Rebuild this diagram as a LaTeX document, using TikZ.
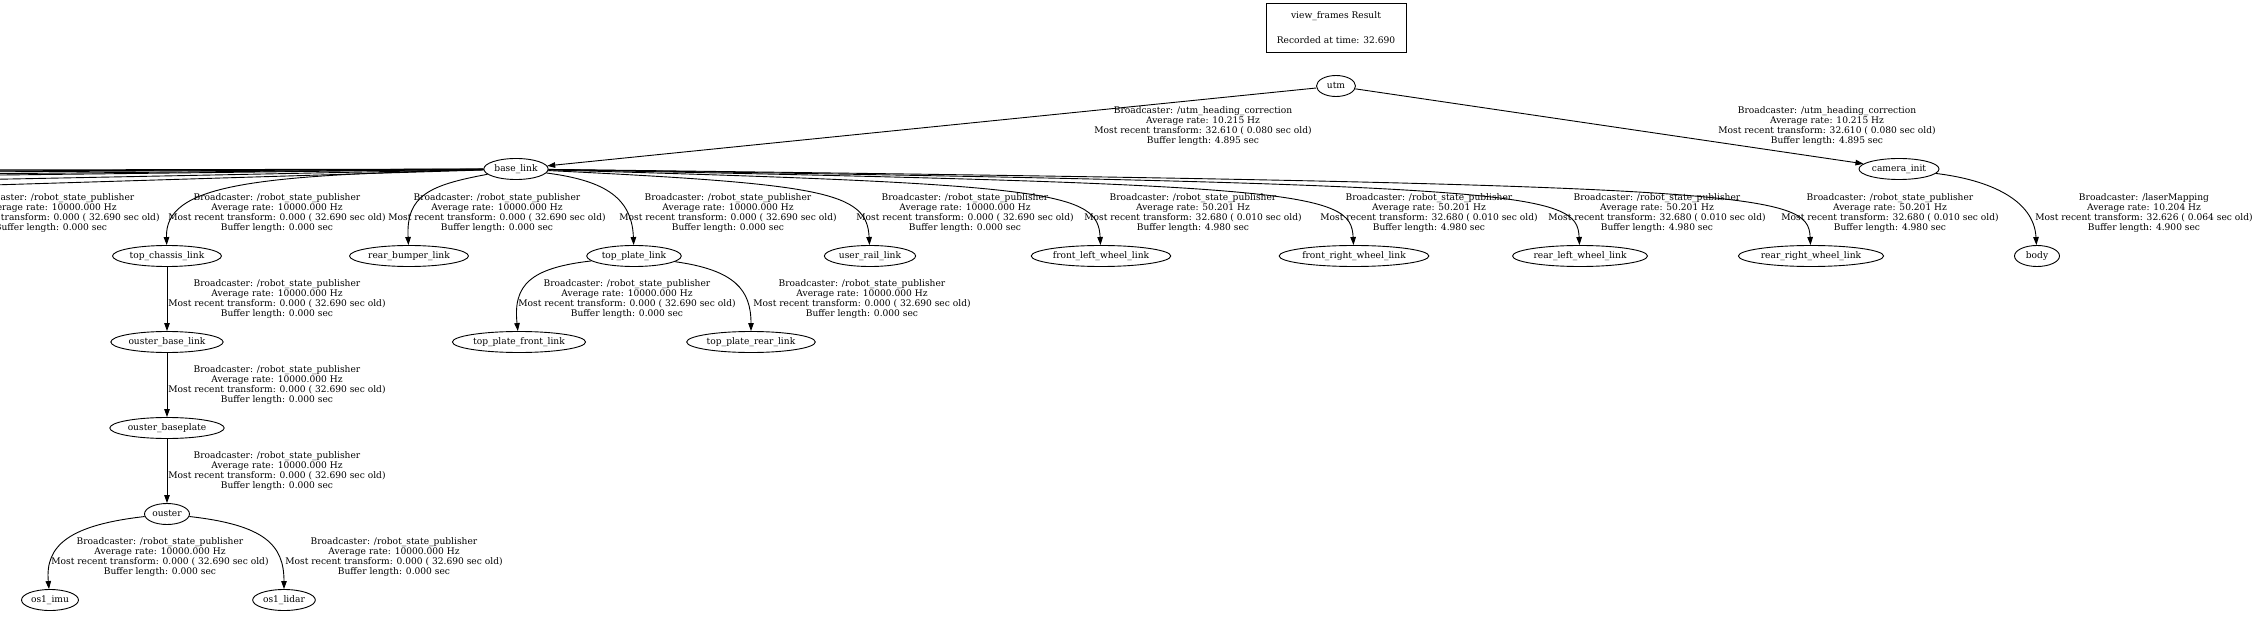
\documentclass[tikz,border=0pt]{standalone}
\usepackage{fontspec}
\setmainfont{DejaVu Serif}
\usetikzlibrary{arrows.meta,shapes.geometric}

\begin{document}
\begin{tikzpicture}[x=1pt,y=-1pt,line width=.9pt,
  frame/.style={draw,shape=ellipse,inner xsep=1.2pt,inner ysep=1pt,minimum width=39pt,minimum height=21pt,text height=6.3pt,text depth=1.6pt,font=\fontsize{9.1}{9.9}\selectfont},
  info/.style={align=center,inner sep=0pt,font=\fontsize{9.1}{9.9}\selectfont},
  tf/.style={-{Triangle[length=8pt,width=5.5pt]}}]

   \useasboundingbox (0,0) rectangle (2259,620);

      \path (1336,28) node[draw,shape=rectangle,minimum width=140pt,minimum height=49pt,info] (0) {view\_frames Result\\[15.1pt]Recorded at time: 32.690};

      \path (1336,86) node[frame] (1) {utm};
      \path (516,169) node[frame] (2) {base\_link};
      \path (1899,169) node[frame] (3) {camera\_init};
      \path (167,256) node[frame] (4) {top\_chassis\_link};
      \path (409,256) node[frame] (5) {rear\_bumper\_link};
      \path (634,256) node[frame] (6) {top\_plate\_link};
      \path (870,256) node[frame] (7) {user\_rail\_link};
      \path (1101,256) node[frame] (8) {front\_left\_wheel\_link};
      \path (1354,256) node[frame] (9) {front\_right\_wheel\_link};
      \path (1580,256) node[frame] (10) {rear\_left\_wheel\_link};
      \path (1811,256) node[frame] (11) {rear\_right\_wheel\_link};
      \path (2037,256) node[frame,minimum width=45pt] (12) {body};
      \path (167,342) node[frame] (13) {ouster\_base\_link};
      \path (519,342) node[frame] (14) {top\_plate\_front\_link};
      \path (751,342) node[frame] (15) {top\_plate\_rear\_link};
      \path (167,428) node[frame] (16) {ouster\_baseplate};
      \path (167,514) node[frame] (17) {ouster};
      \path (50,600) node[frame] (18) {os1\_imu};
      \path (284,600) node[frame] (19) {os1\_lidar};

      % frames further left, outside the picture
      \path (-40,170) coordinate (a1);
      \path (-40,171) coordinate (a2);
      \path (-40,172) coordinate (a3);
      \path (-40,174) coordinate (a4);
      \path (-40,175.5) coordinate (a5);
      \path (-40,180) coordinate (a6);
      \path (-40,186) coordinate (a7);

      \draw[tf] (1) -- (2);
      \draw[tf] (1) -- (3);
      \draw[tf] (2) -- (a1);
      \draw[tf] (2) -- (a2);
      \draw[tf] (2) -- (a3);
      \draw[tf] (2) -- (a4);
      \draw[tf] (2) -- (a5);
      \draw[tf] (2) -- (a6);
      \draw[tf] (2) -- (a7);
      \draw[tf] (2) .. controls (250,175) and (165,185) .. (4);
      \draw[tf] (2) .. controls (430,185) and (406,195) .. (5);
      \draw[tf] (2) .. controls (600,180) and (632,195) .. (6);
      \draw[tf] (2) .. controls (825,184) and (867,192) .. (7);
      \draw[tf] (2) .. controls (1056,184) and (1098,192) .. (8);
      \draw[tf] (2) .. controls (1308,184) and (1351,192) .. (9);
      \draw[tf] (2) .. controls (1536,184) and (1577,192) .. (10);
      \draw[tf] (2) .. controls (1766,184) and (1808,192) .. (11);
      \draw[tf] (3) .. controls (1990,180) and (2034,200) .. (12);
      \draw[tf] (4) -- (13);
      \draw[tf] (6) .. controls (530,268) and (513,285) .. (14);
      \draw[tf] (6) .. controls (735,270) and (751,290) .. (15);
      \draw[tf] (13) -- (16);
      \draw[tf] (16) -- (17);
      \draw[tf] (17) .. controls (70,525) and (45,545) .. (18);
      \draw[tf] (17) .. controls (265,525) and (284,545) .. (19);

      \path (1203,126) node[info] (e1) {Broadcaster: /utm\_heading\_correction\\Average rate: 10.215 Hz\\Most recent transform: 32.610 ( 0.080 sec old)\\Buffer length: 4.895 sec};
      \path (1827,126) node[info] (e2) {Broadcaster: /utm\_heading\_correction\\Average rate: 10.215 Hz\\Most recent transform: 32.610 ( 0.080 sec old)\\Buffer length: 4.895 sec};
      \path (51,213) node[info] (e3) {Broadcaster: /robot\_state\_publisher\\Average rate: 10000.000 Hz\\Most recent transform: 0.000 ( 32.690 sec old)\\Buffer length: 0.000 sec};
      \path (277,213) node[info] (e4) {Broadcaster: /robot\_state\_publisher\\Average rate: 10000.000 Hz\\Most recent transform: 0.000 ( 32.690 sec old)\\Buffer length: 0.000 sec};
      \path (497,213) node[info] (e5) {Broadcaster: /robot\_state\_publisher\\Average rate: 10000.000 Hz\\Most recent transform: 0.000 ( 32.690 sec old)\\Buffer length: 0.000 sec};
      \path (728,213) node[info] (e6) {Broadcaster: /robot\_state\_publisher\\Average rate: 10000.000 Hz\\Most recent transform: 0.000 ( 32.690 sec old)\\Buffer length: 0.000 sec};
      \path (965,213) node[info] (e7) {Broadcaster: /robot\_state\_publisher\\Average rate: 10000.000 Hz\\Most recent transform: 0.000 ( 32.690 sec old)\\Buffer length: 0.000 sec};
      \path (1193,213) node[info] (e8) {Broadcaster: /robot\_state\_publisher\\Average rate: 50.201 Hz\\Most recent transform: 32.680 ( 0.010 sec old)\\Buffer length: 4.980 sec};
      \path (1429,213) node[info] (e9) {Broadcaster: /robot\_state\_publisher\\Average rate: 50.201 Hz\\Most recent transform: 32.680 ( 0.010 sec old)\\Buffer length: 4.980 sec};
      \path (1657,213) node[info] (e10) {Broadcaster: /robot\_state\_publisher\\Average rate: 50.201 Hz\\Most recent transform: 32.680 ( 0.010 sec old)\\Buffer length: 4.980 sec};
      \path (1890,213) node[info] (e11) {Broadcaster: /robot\_state\_publisher\\Average rate: 50.201 Hz\\Most recent transform: 32.680 ( 0.010 sec old)\\Buffer length: 4.980 sec};
      \path (2144,213) node[info] (e12) {Broadcaster: /laserMapping\\Average rate: 10.204 Hz\\Most recent transform: 32.626 ( 0.064 sec old)\\Buffer length: 4.900 sec};
      \path (277,299) node[info] (e13) {Broadcaster: /robot\_state\_publisher\\Average rate: 10000.000 Hz\\Most recent transform: 0.000 ( 32.690 sec old)\\Buffer length: 0.000 sec};
      \path (627,299) node[info] (e14) {Broadcaster: /robot\_state\_publisher\\Average rate: 10000.000 Hz\\Most recent transform: 0.000 ( 32.690 sec old)\\Buffer length: 0.000 sec};
      \path (862,299) node[info] (e15) {Broadcaster: /robot\_state\_publisher\\Average rate: 10000.000 Hz\\Most recent transform: 0.000 ( 32.690 sec old)\\Buffer length: 0.000 sec};
      \path (277,385) node[info] (e16) {Broadcaster: /robot\_state\_publisher\\Average rate: 10000.000 Hz\\Most recent transform: 0.000 ( 32.690 sec old)\\Buffer length: 0.000 sec};
      \path (277,471) node[info] (e17) {Broadcaster: /robot\_state\_publisher\\Average rate: 10000.000 Hz\\Most recent transform: 0.000 ( 32.690 sec old)\\Buffer length: 0.000 sec};
      \path (160,557) node[info] (e18) {Broadcaster: /robot\_state\_publisher\\Average rate: 10000.000 Hz\\Most recent transform: 0.000 ( 32.690 sec old)\\Buffer length: 0.000 sec};
      \path (394,557) node[info] (e19) {Broadcaster: /robot\_state\_publisher\\Average rate: 10000.000 Hz\\Most recent transform: 0.000 ( 32.690 sec old)\\Buffer length: 0.000 sec};

   \end{tikzpicture}
\end{document}
